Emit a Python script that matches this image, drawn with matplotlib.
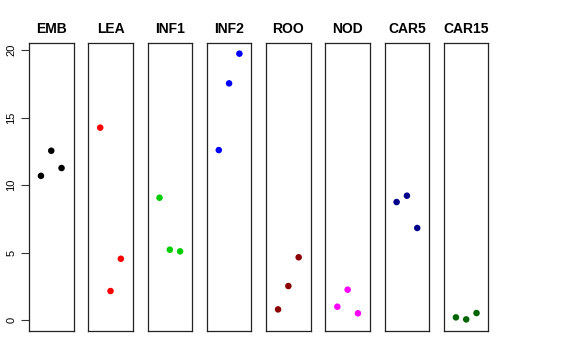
import matplotlib
matplotlib.use("Agg")
import matplotlib.pyplot as plt

plt.rcParams['font.family'] = ['Liberation Sans', 'DejaVu Sans']

# ------------------------------
# Data
# ------------------------------
groups = ["EMB", "LEA", "INF1", "INF2", "ROO", "NOD", "CAR5", "CAR15"]
colors = ["black", "red", "#00CD00", "blue", "#8B0000", "magenta", "#00008B", "#006400"]

emb = [10.7, 12.56, 11.28]
lea = [14.27, 2.17, 4.56]
inf1 = [9.08, 5.23, 5.11]
inf2 = [12.61, 17.55, 19.75]
roo = [0.81, 2.54, 4.67]
nod = [1.01, 2.27, 0.52]
car5 = [8.76, 9.23, 6.84]
car15 = [0.22, 0.07, 0.54]
series = [emb, lea, inf1, inf2, roo, nod, car5, car15]

replicate = [1, 2, 3]
y_ticks = [0, 5, 10, 15, 20]

# ------------------------------
# Layout
# ------------------------------
W, H = 576, 360
fig = plt.figure(figsize=(W / 100, H / 100), dpi=100)

left0 = 29.0
panel_w = 44.5
step = 59.28
top, bottom = 43.0, 331.0

for i, (name, vals, col) in enumerate(zip(groups, series, colors)):
    x0 = left0 + i * step
    ax = fig.add_axes([x0 / W, 1 - bottom / H, panel_w / W, (bottom - top) / H])
    ax.scatter(replicate, vals, color=col, s=22, edgecolors='none', zorder=3)
    ax.set_xlim(-0.16, 4.16)
    ax.set_ylim(-0.79, 20.54)
    ax.set_xticks([])
    for s in ax.spines.values():
        s.set_linewidth(0.9)
        s.set_color("#222222")
    ax.set_title(name, fontsize=10, fontweight='bold', pad=7)
    if i == 0:
        ax.set_yticks(y_ticks)
        ax.set_yticklabels([str(t) for t in y_ticks], rotation=90, va='center', fontsize=8)
        ax.tick_params(axis='y', length=6, width=0.8, pad=3, color="#333333")
    else:
        ax.set_yticks([])

fig.savefig("out.png", dpi=100)
